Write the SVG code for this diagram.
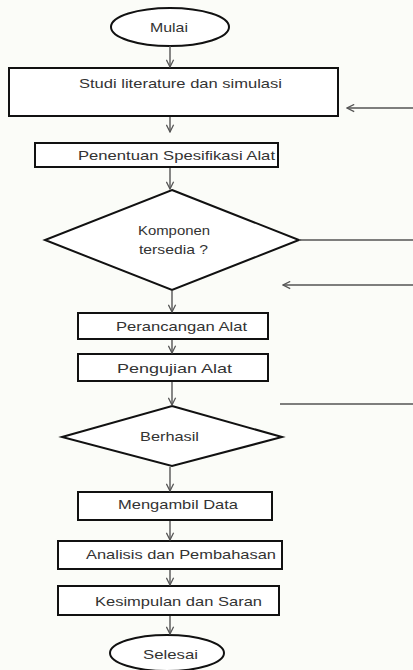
<svg xmlns="http://www.w3.org/2000/svg" width="413" height="670" viewBox="0 0 413 670">
<defs>
<marker id="ah" viewBox="0 0 10 10" refX="9" refY="5" markerWidth="9" markerHeight="9" markerUnits="userSpaceOnUse" orient="auto">
<path d="M1,1 L9,5 L1,9" fill="none" stroke="#555" stroke-width="1.4"/>
</marker>
<style>
.n{fill:#fff;stroke:#111;stroke-width:2}
.t{font-family:"Liberation Sans",Arial,sans-serif;font-size:13px;fill:#333}
.c{stroke:#555;stroke-width:1.4;fill:none}
.a{marker-end:url(#ah)}
</style>
</defs>
<rect width="413" height="670" fill="#fbfcf8"/>
<g id="mulai"><ellipse class="n" cx="170" cy="27" rx="59" ry="19"/><text class="t" x="150" y="32" textLength="38" lengthAdjust="spacingAndGlyphs">Mulai</text></g>
<g id="studi"><rect class="n" x="9" y="68" width="329" height="48"/><text class="t" x="79" y="88" textLength="203" lengthAdjust="spacingAndGlyphs">Studi literature dan simulasi</text></g>
<g id="penentuan"><rect class="n" x="35" y="143" width="243" height="24"/><text class="t" x="78" y="160" textLength="197" lengthAdjust="spacingAndGlyphs">Penentuan Spesifikasi Alat</text></g>
<g id="komponen"><polygon class="n" points="172,190 299,240 172,290 45,240"/><text class="t" x="138" y="235" textLength="72" lengthAdjust="spacingAndGlyphs">Komponen</text><text class="t" x="139" y="254" textLength="69" lengthAdjust="spacingAndGlyphs">tersedia ?</text></g>
<g id="perancangan"><rect class="n" x="78" y="313" width="190" height="26"/><text class="t" x="116" y="331" textLength="131" lengthAdjust="spacingAndGlyphs">Perancangan Alat</text></g>
<g id="pengujian"><rect class="n" x="78" y="354" width="190" height="27"/><text class="t" x="117" y="373" textLength="115" lengthAdjust="spacingAndGlyphs">Pengujian Alat</text></g>
<g id="berhasil"><polygon class="n" points="172,406 282,437 172,466 62,437"/><text class="t" x="140" y="441" textLength="59" lengthAdjust="spacingAndGlyphs">Berhasil</text></g>
<g id="mengambil"><rect class="n" x="78" y="492" width="194" height="28"/><text class="t" x="118" y="509" textLength="120" lengthAdjust="spacingAndGlyphs">Mengambil Data</text></g>
<g id="analisis"><rect class="n" x="58" y="541" width="224" height="28"/><text class="t" x="86" y="559" textLength="190" lengthAdjust="spacingAndGlyphs">Analisis dan Pembahasan</text></g>
<g id="kesimpulan"><rect class="n" x="58" y="586" width="221" height="29"/><text class="t" x="95" y="606" textLength="167" lengthAdjust="spacingAndGlyphs">Kesimpulan dan Saran</text></g>
<g id="selesai"><ellipse class="n" cx="167" cy="653" rx="57" ry="18"/><text class="t" x="143" y="659" textLength="55" lengthAdjust="spacingAndGlyphs">Selesai</text></g>
<g id="connectors">
<line class="c a" x1="170" y1="46" x2="170" y2="67"/>
<line class="c a" x1="170" y1="117" x2="170" y2="132"/>
<line class="c a" x1="170" y1="168" x2="170" y2="189"/>
<line class="c a" x1="172" y1="291" x2="172" y2="312"/>
<line class="c a" x1="172" y1="340" x2="172" y2="353"/>
<line class="c a" x1="172" y1="382" x2="172" y2="405"/>
<line class="c a" x1="170" y1="467" x2="170" y2="491"/>
<line class="c a" x1="170" y1="521" x2="170" y2="540"/>
<line class="c a" x1="170" y1="570" x2="170" y2="585"/>
<line class="c a" x1="170" y1="616" x2="170" y2="634"/>
<line class="c a" x1="413" y1="108" x2="347" y2="108"/>
<line class="c" x1="299" y1="240" x2="413" y2="240"/>
<line class="c a" x1="413" y1="285" x2="283" y2="285"/>
<line class="c" x1="280" y1="404" x2="413" y2="404"/>
</g>
</svg>
